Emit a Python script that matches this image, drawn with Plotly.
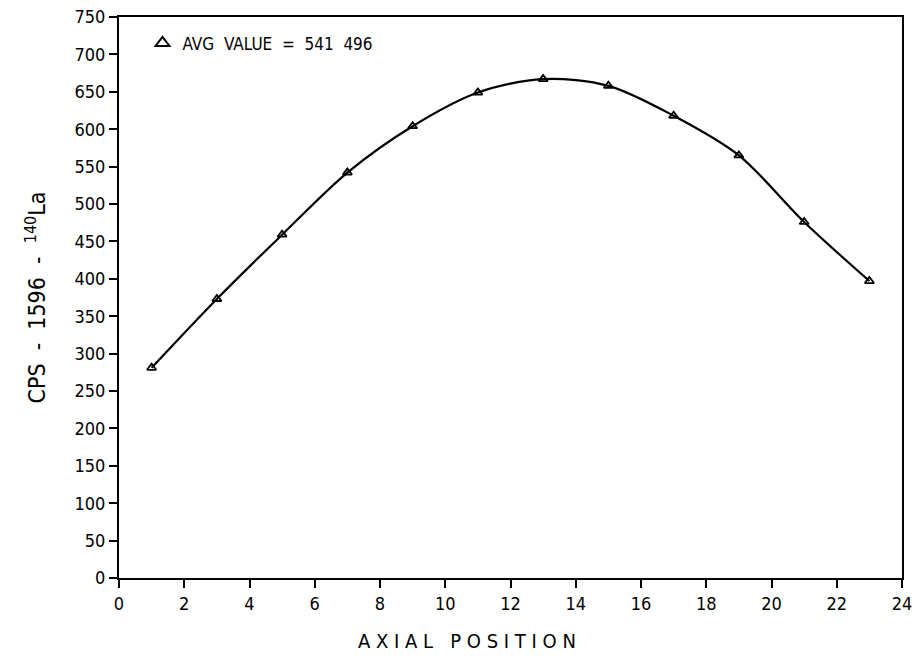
import plotly.graph_objects as go

positions = [1, 3, 5, 7, 9, 11, 13, 15, 17, 19, 21, 23]
cps = [281, 373, 459, 542, 604, 649, 667, 658, 618, 565, 476, 397]
x_ticks = list(range(0, 25, 2))
y_ticks = list(range(0, 751, 50))
legend_label = "AVG  VALUE  =  541  496"
x_title = "A X I A L   P O S I T I O N"
y_title = "CPS  -  1596  -  <sup>140</sup>La"

FONT = "DejaVu Sans Condensed, Liberation Sans Narrow, DejaVu Sans, sans-serif"

fig = go.Figure()
fig.add_trace(go.Scatter(
    x=positions, y=cps, mode="lines",
    line=dict(color="black", width=2.2, shape="spline", smoothing=0.9),
    showlegend=False, hoverinfo="skip"))
fig.add_trace(go.Scatter(
    x=positions, y=cps, mode="markers", name=legend_label,
    marker=dict(symbol="triangle-up-open", size=8, color="black",
                line=dict(color="black", width=1.8)),
    showlegend=True))

fig.add_annotation(x=0.445, y=-0.088, xref="paper", yref="paper",
                   text=x_title, showarrow=False, xanchor="center", yanchor="top",
                   font=dict(size=20, family=FONT, color="black"))

fig.update_layout(
    width=913, height=661,
    margin=dict(l=119, r=11, t=17, b=83, autoexpand=False),
    plot_bgcolor="white", paper_bgcolor="white",
    font=dict(family=FONT, color="black", size=16),
    legend=dict(x=0.03, y=0.985, xanchor="left", yanchor="top",
                bgcolor="rgba(0,0,0,0)", font=dict(size=17, family=FONT),
                itemsizing="constant", itemwidth=30),
    xaxis=dict(range=[0, 24], tickvals=x_ticks, ticks="outside", ticklen=8,
               tickwidth=2, tickcolor="black", showgrid=False, zeroline=False,
               showline=True, linecolor="black", linewidth=2, mirror=True,
               ticklabeloverflow="allow", automargin=False,
               tickfont=dict(size=18, family=FONT)),
    yaxis=dict(range=[0, 750], tickvals=y_ticks, ticks="outside", ticklen=8,
               tickwidth=2, tickcolor="black", showgrid=False, zeroline=False,
               showline=True, linecolor="black", linewidth=2, mirror=True,
               automargin=False,
               tickfont=dict(size=18, family=FONT),
               title=dict(text=y_title, standoff=22,
                          font=dict(size=23, family=FONT))),
)

fig.write_html("out.html")
